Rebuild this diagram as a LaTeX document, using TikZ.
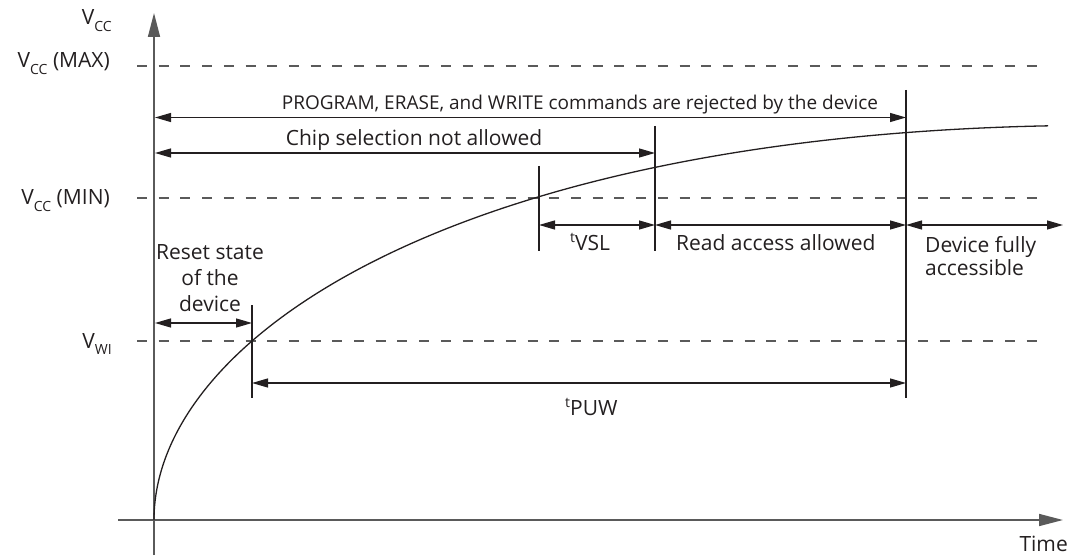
\documentclass[tikz,border=0pt]{standalone}
\usepackage{fontspec}
\setmainfont{Open Sans}
\usetikzlibrary{arrows.meta}
\definecolor{ink}{HTML}{231F20}
\definecolor{axisgray}{HTML}{5A5A5A}
\newcommand\lowsub[1]{\raisebox{-6.5pt}{\fontsize{14}{14}\selectfont #1}}
\newcommand\highsup[1]{\raisebox{8pt}{\fontsize{14}{14}\selectfont #1}}
\begin{document}
\begin{tikzpicture}[x=1pt,y=-1pt,
  axisline/.style={draw=axisgray, line width=1.6pt, -{Triangle[length=24pt,width=12pt]}},
  dimline/.style={draw=ink, line width=1.3pt, {Triangle[length=16pt,width=9pt]}-{Triangle[length=16pt,width=9pt]}},
  refline/.style={draw=axisgray, line width=1.2pt, dash pattern=on 10pt off 11.7pt},
  tickline/.style={draw=ink, line width=1.2pt},
  curveline/.style={draw=ink, line width=1.3pt},
  lbl/.style={text=ink, font=\fontsize{21}{26}\selectfont, inner sep=0pt}]
\useasboundingbox (0,0) rectangle (1071,556);

% coordinates
\coordinate (ybot) at (154,555);
\coordinate (ytop) at (154,13);
\coordinate (xl) at (118,520);
\coordinate (xr) at (1063,520);
\coordinate (maxl) at (137,66);   \coordinate (maxr) at (1045,66);
\coordinate (minl) at (137,198);  \coordinate (minr) at (1045,198);
\coordinate (wil) at (137,341);   \coordinate (wir) at (1045,341);

\coordinate (pa) at (155,117.5);  \coordinate (pb) at (906,117.5);
\coordinate (ca) at (155,153);    \coordinate (cb) at (655,153);
\coordinate (va) at (539,225);    \coordinate (vb) at (655,225);
\coordinate (rb) at (906,225);
\coordinate (db) at (1063,225);
\coordinate (sa) at (155,323);    \coordinate (sb) at (252,323);
\coordinate (ua) at (252,383);    \coordinate (ub) at (906,383);

\coordinate (t1a) at (539,166);   \coordinate (t1b) at (539,251);
\coordinate (t2a) at (655,126);   \coordinate (t2b) at (655,251);
\coordinate (t3a) at (906,90);    \coordinate (t3b) at (906,398);
\coordinate (t4a) at (252,305);   \coordinate (t4b) at (252,398);

% reference dashed lines
\draw[refline] (maxl) -- (maxr);
\draw[refline] (minl) -- (minr);
\draw[refline] (wil) -- (wir);

% axes
\draw[axisline] (ybot) -- (ytop);
\draw[axisline] (xl) -- (xr);

% curve (x = 154 + u^2, height = cubic in u)
\draw[curveline] plot[domain=0:29.9, samples=160, variable=\u, smooth]
  ({154+\u*\u}, {520-(18.207*\u+0.0642*\u*\u-0.007773*\u*\u*\u)});

% ticks
\draw[tickline] (t1a) -- (t1b);
\draw[tickline] (t2a) -- (t2b);
\draw[tickline] (t3a) -- (t3b);
\draw[tickline] (t4a) -- (t4b);

% dimension arrows
\draw[dimline] (pa) -- (pb);
\draw[dimline] (ca) -- (cb);
\draw[dimline] (va) -- (vb);
\draw[dimline] (vb) -- (rb);
\draw[dimline] (rb) -- (db);
\draw[dimline] (sa) -- (sb);
\draw[dimline] (ua) -- (ub);

% axis labels
\node[lbl, anchor=base east] (lvcc) at (112,25) {V\lowsub{CC}};
\node[lbl, anchor=base east] (lmax) at (110,68) {V\lowsub{CC} (MAX)};
\node[lbl, anchor=base east] (lmin) at (110,205) {V\lowsub{CC} (MIN)};
\node[lbl, anchor=base east] (lwi) at (112,348) {V\lowsub{WI}};

% texts
\node[lbl, anchor=base, font=\fontsize{19}{24}\selectfont] (lprog) at (580,110) {PROGRAM, ERASE, and WRITE commands are rejected by the device};
\node[lbl, anchor=base] (lchip) at (414,146) {Chip selection not allowed};
\node[lbl, anchor=base west] (lvsl) at (570,251) {\highsup{t}VSL};
\node[lbl, anchor=base west] (lread) at (676,251) {Read access allowed};
\node[lbl, anchor=base west] (ldev1) at (925,253) {Device fully};
\node[lbl, anchor=base west] (ldev2) at (925,275.5) {accessible};
\node[lbl, anchor=base] (lres1) at (210,259) {Reset state};
\node[lbl, anchor=base] (lres2) at (210,285) {of the};
\node[lbl, anchor=base] (lres3) at (210,311.5) {device};
\node[lbl, anchor=base west] (lpuw) at (565,415) {\highsup{t}PUW};
\node[lbl, anchor=base east] (ltime) at (1068,551) {Time};
\end{tikzpicture}
\end{document}
